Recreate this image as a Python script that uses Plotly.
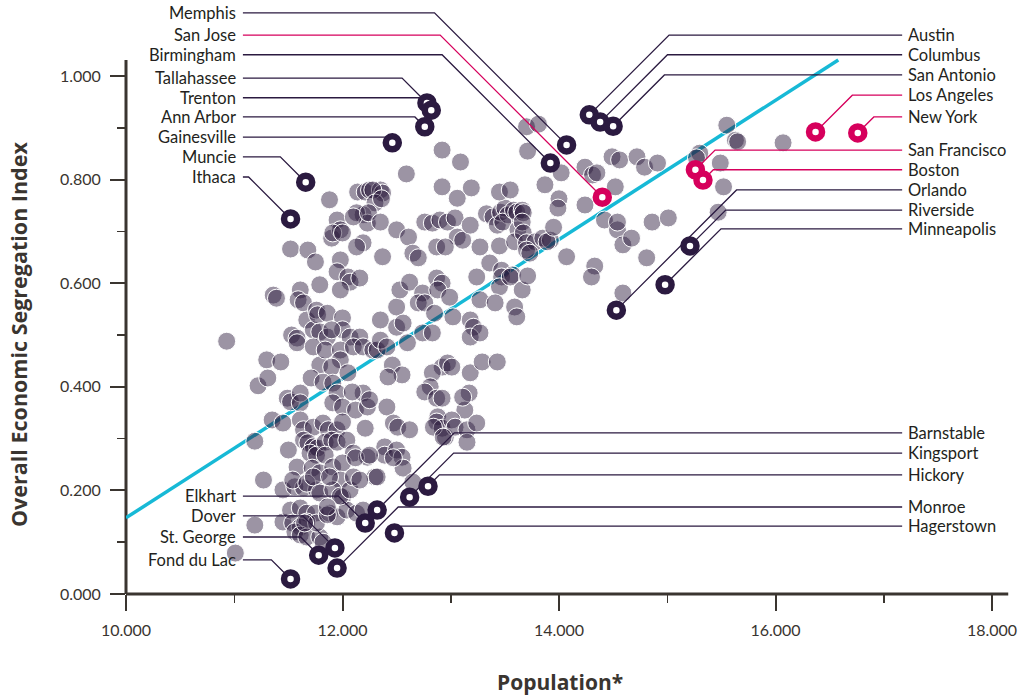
import plotly.graph_objects as go

# ---------------- data ----------------
# Background metros: x = population (log scale value), y = segregation index
GRAY_X = [
    10.93, 11.01, 11.19, 11.27, 11.19, 11.22, 11.30, 11.43, 11.31, 11.35, 11.45, 11.49, 11.52, 11.50,
    11.36, 11.39, 11.45, 11.45, 11.53, 11.58,
    11.52, 11.68, 11.75, 11.61, 11.59, 11.64, 11.67, 11.73, 11.76, 11.77, 11.79, 11.79, 11.58, 11.73,
    11.79, 11.71, 11.61, 11.61, 11.61, 11.64, 11.73, 11.64, 11.68, 11.73, 11.77, 11.70, 11.76, 11.58,
    11.72, 11.79, 11.56, 11.64, 11.76, 11.52, 11.61, 11.67, 11.75, 11.54, 11.61, 11.67, 11.56, 11.61,
    11.67, 11.79, 11.82, 11.54, 11.67, 11.73, 11.79, 11.76, 11.65,
    11.88, 11.90, 11.95, 11.98, 11.91, 12.00, 11.98, 11.95, 12.05, 12.07, 11.98, 11.86, 12.00, 11.86,
    12.00, 12.07, 11.90, 11.84, 11.98, 11.98, 11.90, 11.82, 11.91, 12.05, 11.95, 11.91, 12.00, 11.82,
    11.87, 11.95, 12.00, 11.84, 11.90, 11.95, 12.04, 11.84, 12.10, 11.91, 12.00, 11.98, 11.91, 12.00,
    11.88, 11.95, 12.04, 11.98, 11.86, 11.86, 11.88, 12.07,
    12.14, 12.21, 12.25, 12.35, 12.37, 12.28, 12.30, 12.19, 12.13, 12.23, 12.10, 12.24, 12.19, 12.13,
    12.16, 12.16, 12.10, 12.19, 12.28, 12.19, 12.09, 12.12, 12.23, 12.25, 12.21, 12.23, 12.30, 12.10,
    12.13, 12.19, 12.16, 12.12, 12.32,
    12.35, 12.50, 12.61, 12.36, 12.59, 12.37, 12.50, 12.53, 12.62, 12.35, 12.50, 12.56, 12.60, 12.35,
    12.41, 12.46, 12.55, 12.42, 12.41, 12.47, 12.51, 12.62, 12.39, 12.39, 12.50, 12.55, 12.56, 12.47,
    12.32, 12.65, 12.25,
    12.76, 12.83, 12.90, 12.65, 12.70, 12.74, 12.87, 12.92, 12.88, 12.70, 12.76, 12.85, 12.74, 12.83,
    12.92, 12.83, 12.81, 12.76, 12.87, 12.92, 12.88, 12.87, 12.92, 12.95, 12.87, 12.92, 12.92, 12.84,
    12.97, 13.01, 12.97, 13.04, 13.06, 12.95, 13.09, 13.06, 13.11, 13.19, 13.18, 13.27, 12.99, 13.02,
    13.18, 13.21, 13.18, 13.27, 13.24, 13.27, 13.18, 13.17, 13.13, 13.01, 13.04, 13.15, 13.15, 13.24,
    13.29, 13.11, 12.93,
    13.33, 13.39, 13.43, 13.46, 13.50, 13.53, 13.48, 13.58, 13.61, 13.66, 13.45, 13.45, 13.36, 13.47,
    13.47, 13.57, 13.45, 13.41, 13.59, 13.61, 13.43, 13.55, 13.66, 13.62, 13.59, 13.55,
    13.67, 13.66, 13.67, 13.70, 13.78, 13.70, 13.85, 13.92, 13.89, 13.71, 13.70, 13.81, 13.71, 13.87,
    14.02, 14.00, 13.99, 13.95, 13.73,
    14.07, 14.24, 14.31, 14.35, 14.24, 14.42, 14.54, 14.54, 14.52, 14.49, 14.56, 14.33, 14.30, 14.59,
    14.59, 14.67,
    14.72, 14.79, 14.91, 14.86, 15.01, 14.81, 15.30, 15.49, 15.52, 15.47, 15.55, 15.63, 16.07, 15.65,
    15.27,
]
GRAY_Y = [
    0.488, 0.079, 0.133, 0.220, 0.295, 0.402, 0.452, 0.448, 0.417, 0.336, 0.330, 0.378, 0.371, 0.278,
    0.577, 0.571, 0.139, 0.201, 0.500, 0.494,
    0.666, 0.664, 0.641, 0.587, 0.568, 0.562, 0.529, 0.510, 0.548, 0.539, 0.597, 0.506, 0.485, 0.477,
    0.442, 0.417, 0.388, 0.369, 0.336, 0.317, 0.322, 0.297, 0.292, 0.284, 0.282, 0.272, 0.268, 0.245,
    0.243, 0.234, 0.207, 0.205, 0.201, 0.162, 0.166, 0.156, 0.156, 0.137, 0.129, 0.139, 0.120, 0.114,
    0.110, 0.110, 0.100, 0.220, 0.214, 0.226, 0.195, 0.137, 0.137,
    0.761, 0.687, 0.722, 0.703, 0.697, 0.697, 0.645, 0.622, 0.612, 0.602, 0.587, 0.542, 0.533, 0.496,
    0.510, 0.496, 0.510, 0.471, 0.471, 0.452, 0.438, 0.409, 0.407, 0.427, 0.388, 0.369, 0.361, 0.330,
    0.317, 0.317, 0.332, 0.293, 0.297, 0.293, 0.297, 0.268, 0.272, 0.245, 0.253, 0.220, 0.201, 0.187,
    0.156, 0.149, 0.162, 0.189, 0.153, 0.168, 0.226, 0.201,
    0.776, 0.776, 0.780, 0.780, 0.774, 0.780, 0.755, 0.732, 0.736, 0.716, 0.728, 0.736, 0.678, 0.670,
    0.610, 0.496, 0.477, 0.477, 0.471, 0.388, 0.390, 0.355, 0.361, 0.375, 0.320, 0.264, 0.226, 0.226,
    0.156, 0.162, 0.220, 0.263, 0.471,
    0.718, 0.703, 0.689, 0.763, 0.811, 0.651, 0.554, 0.587, 0.602, 0.529, 0.515, 0.523, 0.485, 0.490,
    0.477, 0.442, 0.423, 0.419, 0.361, 0.330, 0.322, 0.317, 0.284, 0.268, 0.278, 0.264, 0.243, 0.263,
    0.226, 0.216, 0.268,
    0.718, 0.716, 0.722, 0.658, 0.649, 0.581, 0.610, 0.600, 0.587, 0.562, 0.562, 0.542, 0.504, 0.504,
    0.438, 0.427, 0.400, 0.390, 0.378, 0.378, 0.342, 0.332, 0.320, 0.303, 0.670, 0.786, 0.857, 0.322,
    0.446, 0.438, 0.718, 0.726, 0.689, 0.670, 0.834, 0.764, 0.683, 0.784, 0.712, 0.670, 0.573, 0.535,
    0.529, 0.515, 0.496, 0.504, 0.612, 0.568, 0.427, 0.388, 0.355, 0.336, 0.322, 0.317, 0.293, 0.330,
    0.448, 0.380, 0.303,
    0.734, 0.728, 0.712, 0.737, 0.745, 0.732, 0.718, 0.741, 0.737, 0.741, 0.776, 0.672, 0.639, 0.625,
    0.612, 0.616, 0.593, 0.562, 0.554, 0.535, 0.448, 0.612, 0.587, 0.703, 0.680, 0.780,
    0.736, 0.718, 0.697, 0.678, 0.680, 0.664, 0.687, 0.683, 0.680, 0.614, 0.902, 0.907, 0.855, 0.790,
    0.813, 0.763, 0.745, 0.708, 0.658,
    0.651, 0.824, 0.809, 0.813, 0.751, 0.722, 0.703, 0.718, 0.786, 0.844, 0.838, 0.633, 0.612, 0.581,
    0.674, 0.687,
    0.844, 0.824, 0.832, 0.718, 0.726, 0.649, 0.851, 0.832, 0.786, 0.737, 0.905, 0.876, 0.871, 0.873,
    0.842,
]

# Highlighted metros
CITY_NAMES = [
    "Memphis", "San Jose", "Birmingham", "Tallahassee", "Trenton", "Ann Arbor", "Gainesville",
    "Muncie", "Ithaca",
    "Austin", "Columbus", "San Antonio", "Los Angeles", "New York", "San Francisco", "Boston",
    "Orlando", "Riverside", "Minneapolis",
    "Barnstable", "Kingsport", "Hickory", "Monroe", "Hagerstown",
    "Elkhart", "Dover", "St. George", "Fond du Lac",
]
CITY_X = [
    14.07, 14.40, 13.92, 12.78, 12.82, 12.76, 12.46, 11.66, 11.52,
    14.28, 14.38, 14.50, 16.37, 16.76, 15.26, 15.33, 14.53, 15.21, 14.98,
    12.32, 12.62, 12.79, 11.95, 12.48,
    12.21, 11.93, 11.78, 11.52,
]
CITY_Y = [
    0.867, 0.766, 0.832, 0.948, 0.934, 0.902, 0.871, 0.795, 0.724,
    0.925, 0.911, 0.903, 0.892, 0.890, 0.819, 0.799, 0.548, 0.672, 0.597,
    0.162, 0.187, 0.208, 0.050, 0.118,
    0.137, 0.089, 0.075, 0.029,
]
CITY_GROUP = [
    "dark", "pink", "dark", "dark", "dark", "dark", "dark", "dark", "dark",
    "dark", "dark", "dark", "pink", "pink", "pink", "pink", "dark", "dark", "dark",
    "dark", "dark", "dark", "dark", "dark",
    "dark", "dark", "dark", "dark",
]

# Fitted trend line
TREND_X = [10.0, 16.58]
TREND_Y = [0.147, 1.031]

X_TICKS = [10, 12, 14, 16, 18]
X_MINOR = [11, 13, 15, 17]
Y_TICKS = [0.0, 0.2, 0.4, 0.6, 0.8, 1.0]
Y_MINOR = [0.1, 0.3, 0.5, 0.7, 0.9]

X_TITLE = "Population*"
Y_TITLE = "Overall Economic Segregation Index"

# ---------------- label layout (annotation placement) ----------------
LABEL_SIDE = [-1] * 9 + [1] * 10 + [1] * 5 + [-1] * 4
LABEL_LEVEL = [
    1.122, 1.079, 1.041, 0.996, 0.958, 0.921, 0.882, 0.844, 0.805,
    1.079, 1.041, 1.002, 0.963, 0.921, 0.857, 0.819, 0.780, 0.741, 0.705,
    0.311, 0.272, 0.230, 0.168, 0.131,
    0.189, 0.151, 0.110, 0.066,
]
LEFT_LINE_X = 11.08
RIGHT_LINE_X = 17.17
AXIS_X_END = 18.15
AXIS_Y_END = 1.031

# ---------------- geometry ----------------
W, H = 1025, 699
AX_LEFT, AX_BOTTOM = 126, 594
M_L, M_T, M_R = AX_LEFT, 4, 5
M_B = H - AX_BOTTOM
PX_PER_X = 108.25
PX_PER_Y = 518.0
plot_w = W - M_L - M_R
plot_h = H - M_T - M_B
X_RANGE = [10, 10 + plot_w / PX_PER_X]
Y_RANGE = [0, plot_h / PX_PER_Y]
SLOPE_K = PX_PER_Y / PX_PER_X  # 45-degree leader lines in screen space

DARK = "#2b1a40"
PINK = "#d6005c"
CYAN = "#17b9d6"
AXIS = "#3a3530"
TEXT = "#231f20"
FONT = "Lato"
TITLE_FONT = "Open Sans"

fig = go.Figure()

fig.add_trace(go.Scatter(
    x=TREND_X, y=TREND_Y, mode="lines",
    line=dict(color=CYAN, width=3.5), hoverinfo="skip", showlegend=False,
))

fig.add_trace(go.Scatter(
    x=GRAY_X, y=GRAY_Y, mode="markers",
    marker=dict(size=18, color="rgba(45,27,62,0.47)", line=dict(color="white", width=1)),
    hoverinfo="skip", showlegend=False,
))

lines = {"dark": ([], []), "pink": ([], [])}
annotations = []
for name, x, y, g, side, lvl in zip(CITY_NAMES, CITY_X, CITY_Y, CITY_GROUP, LABEL_SIDE, LABEL_LEVEL):
    start = LEFT_LINE_X if side < 0 else RIGHT_LINE_X
    elbow = x + side * abs(lvl - y) * SLOPE_K
    lx, ly = lines[g]
    lx += [start, elbow, x, None]
    ly += [lvl, lvl, y, None]
    annotations.append(dict(
        x=start, y=lvl, xref="x", yref="y", text=name, showarrow=False,
        xanchor="right" if side < 0 else "left", yanchor="middle",
        xshift=-5 if side < 0 else 4,
        font=dict(family=FONT, size=16.5, color=TEXT),
    ))

for g, col in (("dark", DARK), ("pink", PINK)):
    lx, ly = lines[g]
    fig.add_trace(go.Scatter(
        x=lx, y=ly, mode="lines", line=dict(color=col, width=1.3),
        hoverinfo="skip", showlegend=False,
    ))

for g, col in (("dark", DARK), ("pink", PINK)):
    xs = [x for x, gg in zip(CITY_X, CITY_GROUP) if gg == g]
    ys = [y for y, gg in zip(CITY_Y, CITY_GROUP) if gg == g]
    fig.add_trace(go.Scatter(
        x=xs, y=ys, mode="markers",
        marker=dict(size=13, color="white", line=dict(color=col, width=6.5)),
        hoverinfo="skip", showlegend=False,
    ))


def px_to_paper_x(px):
    return (px - AX_LEFT) / plot_w


def px_to_paper_y(py):
    return (AX_BOTTOM - py) / plot_h


def data_to_paper_x(v):
    return (v - X_RANGE[0]) / (X_RANGE[1] - X_RANGE[0])


def data_to_paper_y(v):
    return (v - Y_RANGE[0]) / (Y_RANGE[1] - Y_RANGE[0])


shapes = [
    dict(type="line", xref="paper", yref="paper", x0=0, x1=0,
         y0=0, y1=data_to_paper_y(AXIS_Y_END), line=dict(color=AXIS, width=3), layer="below"),
    dict(type="line", xref="paper", yref="paper", x0=0, x1=data_to_paper_x(AXIS_X_END),
         y0=0, y1=0, line=dict(color=AXIS, width=3), layer="below"),
]

annotations.append(dict(
    x=px_to_paper_x(19), y=px_to_paper_y(335), xref="paper", yref="paper",
    xanchor="center", yanchor="middle",
    text=f"<b>{Y_TITLE}</b>", showarrow=False, textangle=-90,
    font=dict(family=TITLE_FONT, size=21.5, color=AXIS),
))
annotations.append(dict(
    x=px_to_paper_x(560), y=px_to_paper_y(682), xref="paper", yref="paper",
    xanchor="center", yanchor="middle",
    text=f"<b>{X_TITLE}</b>", showarrow=False,
    font=dict(family=TITLE_FONT, size=21, color=AXIS),
))

fig.update_layout(
    width=W, height=H,
    margin=dict(l=M_L, r=M_R, t=M_T, b=M_B),
    paper_bgcolor="white", plot_bgcolor="white",
    font=dict(family=FONT, color=AXIS),
    shapes=shapes, annotations=annotations,
    showlegend=False, hovermode=False,
)
fig.update_xaxes(
    range=X_RANGE, tickmode="array", tickvals=X_TICKS, tickformat=".3f",
    ticks="outside", ticklen=16, tickwidth=2, tickcolor=AXIS,
    minor=dict(tickmode="array", tickvals=X_MINOR, ticks="outside", ticklen=8, tickwidth=1.5, tickcolor=AXIS),
    showgrid=False, zeroline=False, showline=False,
    tickfont=dict(family=FONT, size=16, color=AXIS), ticklabelstandoff=6,
)
fig.update_yaxes(
    range=Y_RANGE, tickmode="array", tickvals=Y_TICKS, tickformat=".3f",
    ticks="outside", ticklen=15, tickwidth=2, tickcolor=AXIS,
    minor=dict(tickmode="array", tickvals=Y_MINOR, ticks="outside", ticklen=8, tickwidth=1.5, tickcolor=AXIS),
    showgrid=False, zeroline=False, showline=False,
    tickfont=dict(family=FONT, size=16, color=AXIS), ticklabelstandoff=6,
)

# remove the default page margin so the figure sits at the window's top-left corner
fig.write_html(
    "out.html",
    config={"displayModeBar": False, "staticPlot": True},
    post_script="document.body.style.margin='0px';",
)
